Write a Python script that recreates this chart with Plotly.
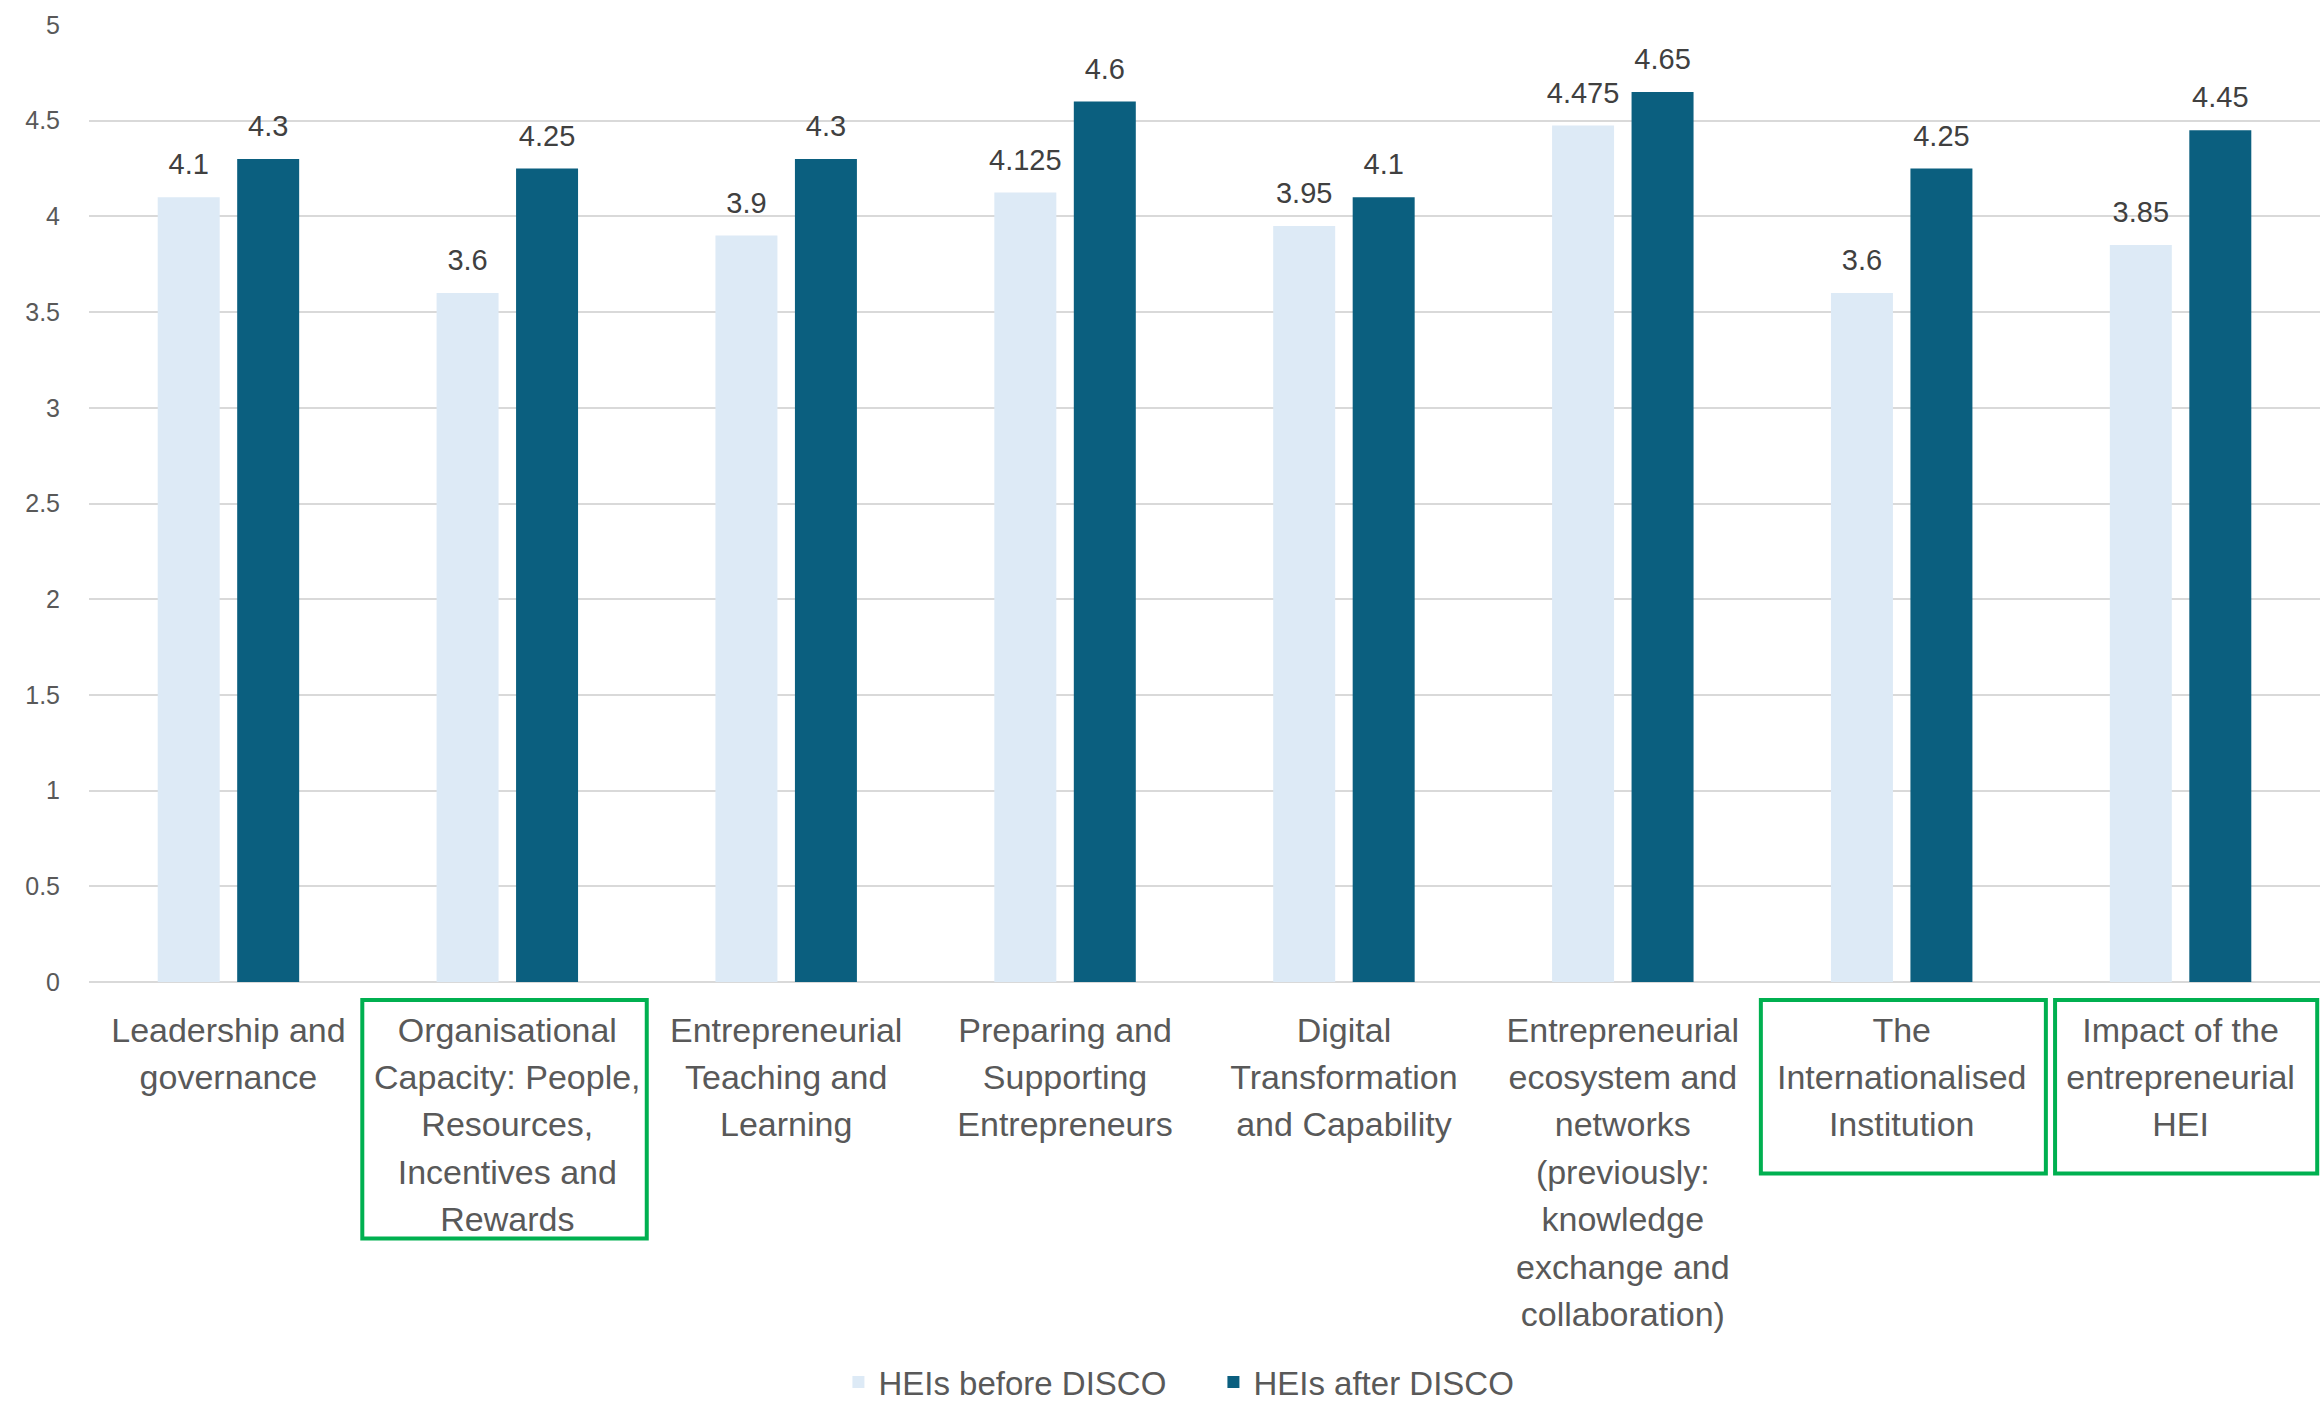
import plotly.graph_objects as go

categories = [
    ["Leadership and", "governance"],
    ["Organisational", "Capacity: People,", "Resources,", "Incentives and", "Rewards"],
    ["Entrepreneurial", "Teaching and", "Learning"],
    ["Preparing and", "Supporting", "Entrepreneurs"],
    ["Digital", "Transformation", "and Capability"],
    ["Entrepreneurial", "ecosystem and", "networks", "(previously:", "knowledge",
     "exchange and", "collaboration)"],
    ["The", "Internationalised", "Institution"],
    ["Impact of the", "entrepreneurial", "HEI"],
]
before_values = [4.1, 3.6, 3.9, 4.125, 3.95, 4.475, 3.6, 3.85]
after_values = [4.3, 4.25, 4.3, 4.6, 4.1, 4.65, 4.25, 4.45]
series_names = ["HEIs before DISCO", "HEIs after DISCO"]
y_ticks = [0, 0.5, 1, 1.5, 2, 2.5, 3, 3.5, 4, 4.5, 5]

LIGHT = "#DDEAF6"
DARK = "#0B5F7F"
TEXT = "#595959"
FONT = "Liberation Sans, Arial, sans-serif"

x_idx = list(range(len(categories)))
tick_text = ["<br>".join(f"<span style='font-size:34px'>{ln}</span>" for ln in lines)
             for lines in categories]
label_tpl = "<span style='font-size:29px'>%{y}</span><br> "

fig = go.Figure()
for name, vals, col in [(series_names[0], before_values, LIGHT),
                        (series_names[1], after_values, DARK)]:
    fig.add_trace(go.Bar(
        x=x_idx, y=vals, name=name,
        marker=dict(color=col, line=dict(width=0)),
        texttemplate=label_tpl, textposition="outside", constraintext="none",
        textfont=dict(size=13, color="#404040", family=FONT),
        cliponaxis=False,
    ))

# highlight boxes (category index, left offset, right offset, bottom in paper)
boxes = [(1, -0.52, 0.50, -0.268), (6, -0.505, 0.517, -0.2), (7, -0.45, 0.49, -0.2)]
shapes = [dict(type="rect", xref="x", yref="paper",
               x0=i + l, x1=i + r, y0=-0.0188, y1=b,
               line=dict(color="#00B050", width=4)) for i, l, r, b in boxes]

fig.update_layout(
    width=2320, height=1408,
    margin=dict(l=89, r=0, t=25, b=426, autoexpand=False),
    paper_bgcolor="white", plot_bgcolor="white",
    barmode="group", bargap=0.43, bargroupgap=0.22,
    font=dict(family=FONT, color=TEXT),
    showlegend=True,
    legend=dict(
        orientation="h", x=0.504, xanchor="center", y=-0.418, yanchor="middle",
        font=dict(size=33, color=TEXT, family=FONT),
        traceorder="normal", entrywidth=330,
    ),
    shapes=shapes,
    xaxis=dict(
        tickmode="array", tickvals=x_idx, ticktext=tick_text,
        range=[-0.5, len(categories) - 0.5],
        tickfont=dict(size=36.5, color=TEXT, family=FONT),
        showgrid=False, zeroline=False, showline=False, ticks="",
        ticklabelstandoff=22, tickangle=0,
    ),
    yaxis=dict(
        range=[0, 5], tickmode="array", tickvals=y_ticks,
        ticktext=[f"{v:g}" for v in y_ticks],
        tickfont=dict(size=25, color=TEXT, family=FONT),
        showgrid=True, gridcolor="#D9D9D9", gridwidth=2,
        zeroline=True, zerolinecolor="#D9D9D9", zerolinewidth=2,
        showline=False, ticks="", ticklabelstandoff=28,
    ),
)

fig.write_html("out.html")
